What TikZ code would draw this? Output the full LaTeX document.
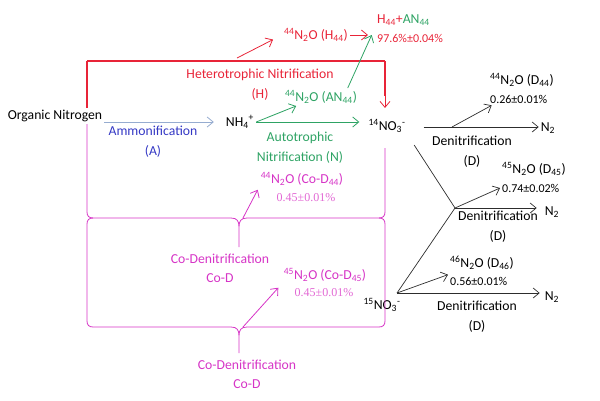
\documentclass[tikz,border=0pt]{standalone}
\usepackage{fontspec}
\setmainfont{Carlito}
\newfontfamily\valfont{Liberation Serif}
\usetikzlibrary{arrows.meta,calc}
\definecolor{hetred}{RGB}{232,36,56}
\definecolor{autgreen}{RGB}{46,163,100}
\definecolor{ammblue}{RGB}{52,56,196}
\definecolor{ammline}{RGB}{150,172,208}
\definecolor{codmag}{RGB}{214,52,198}
\definecolor{codpink}{RGB}{226,104,212}
\definecolor{denline}{RGB}{45,45,45}

\begin{document}
\begin{tikzpicture}[x=1pt, y=-1pt, >={Straight Barb[length=6pt,width=10pt]},
  every node/.style={font=\fontsize{13.7}{20}\selectfont, inner sep=2pt, align=center},
  val/.style={font=\fontsize{12}{14}\selectfont},
  pinkval/.style={font=\valfont\fontsize{12}{14}\selectfont, text=codpink},
  hline/.style={hetred, line width=0.8pt},
  aline/.style={autgreen, line width=0.8pt},
  cline/.style={codmag, line width=0.8pt},
  dline/.style={denline, line width=0.7pt}]
\useasboundingbox (0,0) rectangle (600,400);

\node (orgN) at (55,116) {Organic Nitrogen};
\node (nh4) at (240,122) {NH\textsubscript{4}\textsuperscript{+}};
\node (amm) at (153,141.5) [text=ammblue] {Ammonification\\(A)};
\node (het) at (260,85) [text=hetred] {Heterotrophic Nitrification\\(H)};
\node (h44) at (316,35) [text=hetred] {\textsuperscript{44}N\textsubscript{2}O (H\textsubscript{44})};
\node (hsum) at (375,20) [anchor=west] {{\color{hetred}H\textsubscript{44}+}{\color{autgreen}AN\textsubscript{44}}};
\node (hsumv) at (375,38) [anchor=west, val, text=hetred] {97.6\%±0.04\%};
\node (an44) at (321,97) [text=autgreen] {\textsuperscript{44}N\textsubscript{2}O (AN\textsubscript{44})};
\node (aut) at (300,148) [text=autgreen] {Autotrophic\\Nitrification (N)};
\node (no14) at (387,126) {\textsuperscript{14}NO\textsubscript{3}\textsuperscript{-}};
\node (no15) at (382,305) {\textsuperscript{15}NO\textsubscript{3}\textsuperscript{-}};

\node (cod44) at (302,179) [text=codmag] {\textsuperscript{44}N\textsubscript{2}O (Co-D\textsubscript{44})};
\node (cod44v) at (306,198) [pinkval] {0.45±0.01\%};
\node (cod45) at (325,275) [text=codmag] {\textsuperscript{45}N\textsubscript{2}O (Co-D\textsubscript{45})};
\node (cod45v) at (324,293) [pinkval] {0.45±0.01\%};
\node (codn1) at (220,268.5) [text=codmag, font=\fontsize{13.7}{19}\selectfont] {Co-Denitrification\\Co-D};
\node (codn2) at (247,374) [text=codmag, font=\fontsize{13.7}{19}\selectfont] {Co-Denitrification\\Co-D};

\node (d44) at (488,80) [anchor=west] {\textsuperscript{44}N\textsubscript{2}O (D\textsubscript{44})};
\node (d44v) at (488,99) [anchor=west, val] {0.26±0.01\%};
\node (d45) at (500,169) [anchor=west] {\textsuperscript{45}N\textsubscript{2}O (D\textsubscript{45})};
\node (d45v) at (500,188) [anchor=west, val] {0.74±0.02\%};
\node (d46) at (448,263) [anchor=west] {\textsuperscript{46}N\textsubscript{2}O (D\textsubscript{46})};
\node (d46v) at (448,281) [anchor=west, val] {0.56±0.01\%};
\node (n2a) at (548,128) {N\textsubscript{2}};
\node (n2b) at (552,212) {N\textsubscript{2}};
\node (n2c) at (552,297) {N\textsubscript{2}};
\node (den1) at (472,152) {Denitrification\\(D)};
\node (den2) at (498,227) {Denitrification\\(D)};
\node (den3) at (477,317) {Denitrification\\(D)};

\coordinate (topL) at (87,61);
\coordinate (topR) at (385,61);
\coordinate (topTip) at (385,96);
\coordinate (hetTap) at (237,58);
\coordinate (tap14) at (452,127);
\coordinate (dj) at (455,208);
\coordinate (v15) at (397,293);
\coordinate (codTap1) at (243,218);
\coordinate (codTap2) at (243,327);

\draw[ammline, line width=0.8pt, ->, shorten >=10pt] (orgN.east |- nh4) to (nh4.west);

\draw[hetred, line width=1.1pt] (orgN.north -| topL) to (topL);
\draw[hetred, line width=1.1pt] (topL) to (topR);
\draw[hetred, line width=1.1pt] (topR) to (topTip);
\draw[hline, ->, shorten >=9pt] (topTip) to (topR |- no14.north);
\draw[hline, ->, shorten >=10pt] (hetTap) to (h44.west);
\draw[hline, ->, shorten >=7pt] (h44.east) to (h44.east -| hsum.west);

\draw[aline, ->] (nh4.east) to ($(an44.south west)!0.35!(an44.south)$);
\draw[aline, ->, shorten >=7pt] (nh4.east) to (nh4.east -| no14.west);
\draw[aline, ->, shorten >=8pt] ($(an44.north east)!0.3!(an44.north)$) to (hsum.south west);

\draw[codmag, line width=0.8pt] (orgN.south -| topL) -- (87,212) .. controls (87,216) and (89,218) .. (93,218)
  -- (231,218) .. controls (237,218) and (239,221) .. (239,227) -- (239,247)
  (239,227) .. controls (239,221) and (241,218) .. (247,218)
  -- (379,218) .. controls (383,218) and (385,216) .. (385,212) -- (385,148);
\draw[codmag, line width=0.8pt] (93,218) .. controls (89,218) and (87,220) .. (87,224) -- (87,321)
  .. controls (87,325) and (89,327) .. (93,327)
  -- (231,327) .. controls (237,327) and (239,330) .. (239,336) -- (239,353)
  (239,336) .. controls (239,330) and (241,327) .. (247,327)
  -- (379,327) .. controls (383,327) and (385,325) .. (385,321) -- (385,224)
  .. controls (385,220) and (383,218) .. (379,218);
\draw[cline, ->, shorten >=2pt] (codTap1) to (cod44.south west);
\draw[cline, ->, shorten >=5pt] (codTap2) to (cod45.south west);

\draw[dline, ->, shorten <=16pt] (no14.east |- tap14) to (tap14 -| n2a.west);
\draw[dline, ->] (tap14) to ($(d44v.south west)!0.12!(d44v.south)$);
\draw[dline, shorten <=12pt] (no14.south east) to (dj);
\draw[dline] (v15) to (dj);
\draw[dline, ->, shorten >=6pt] (dj) to (dj -| n2b.west);
\draw[dline, ->] (dj) to (d45v.west);
\draw[dline, ->] (v15) to (d46v.north west);
\draw[dline, ->, shorten >=3pt] (v15) to (v15 -| n2c.west);
\end{tikzpicture}
\end{document}
